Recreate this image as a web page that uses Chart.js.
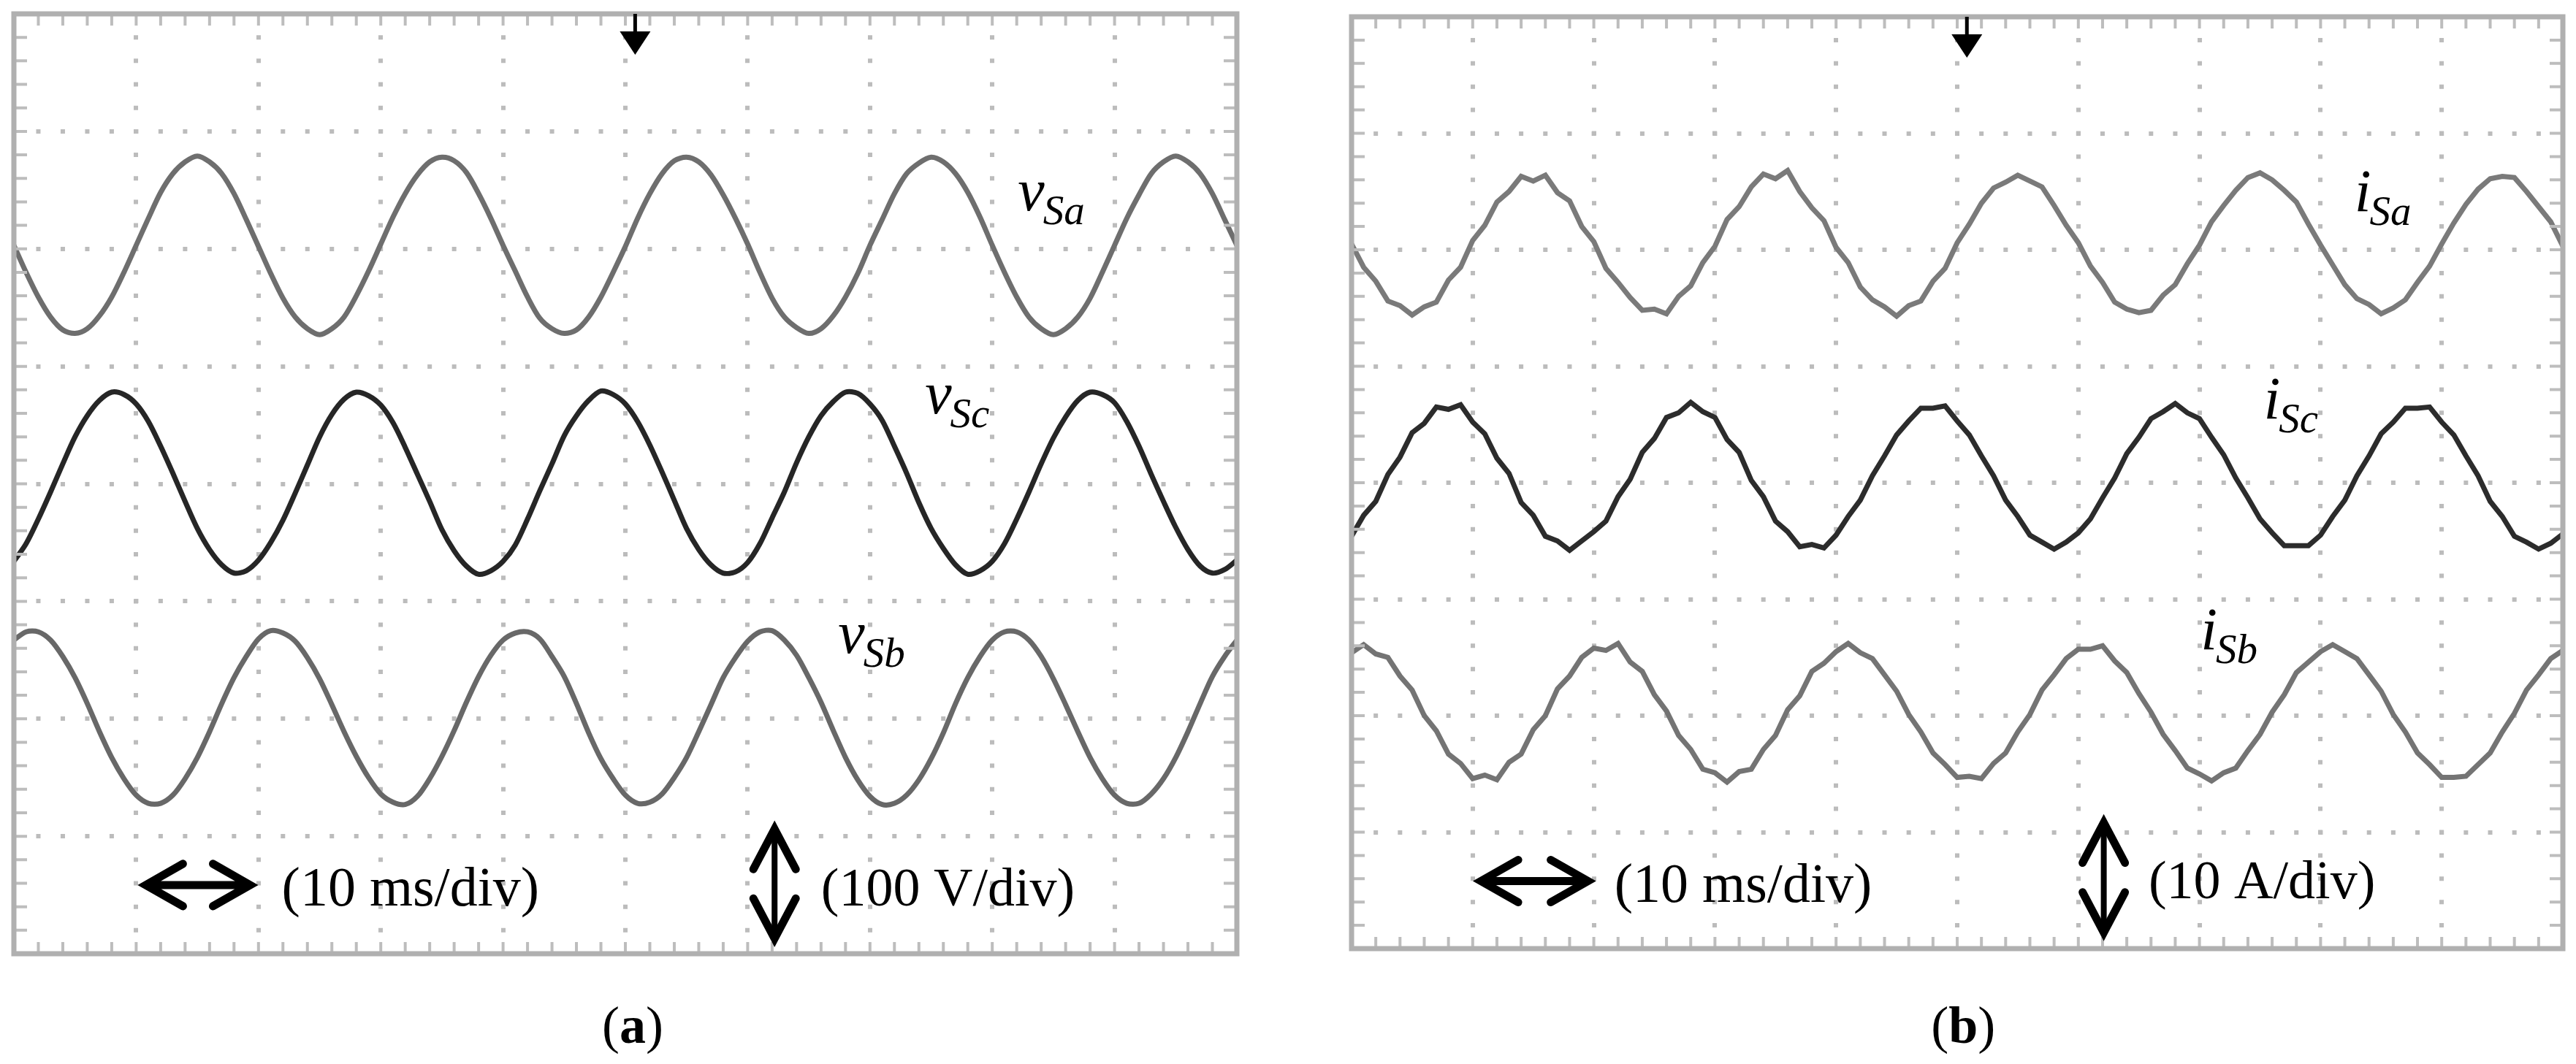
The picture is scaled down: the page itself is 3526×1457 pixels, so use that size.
<!DOCTYPE html>
<html>
<head>
<meta charset="utf-8">
<title>Source voltages and source currents</title>
<script src="https://cdn.jsdelivr.net/npm/chart.js@4.4.1/dist/chart.umd.min.js"></script>
<style>
  html, body { margin: 0; padding: 0; background: #fff; }
  .panel { position: absolute; top: 0; height: 1457px; }
  #panelA { left: 0; width: 1770px; }
  #panelB { left: 1770px; width: 1756px; }
</style>
</head>
<body>
<div class="panel" id="panelA"><canvas id="scopeA"></canvas></div>
<div class="panel" id="panelB"><canvas id="scopeB"></canvas></div>
<script>
// sample instants in ms (10 ms/div, 10 divisions across the screen)
const timeMs = [
  0, 1, 2, 3, 4, 5, 6, 7, 8, 9, 10, 11, 12, 13, 14, 15, 16, 17, 18, 19,
  20, 21, 22, 23, 24, 25, 26, 27, 28, 29, 30, 31, 32, 33, 34, 35, 36, 37, 38, 39,
  40, 41, 42, 43, 44, 45, 46, 47, 48, 49, 50, 51, 52, 53, 54, 55, 56, 57, 58, 59,
  60, 61, 62, 63, 64, 65, 66, 67, 68, 69, 70, 71, 72, 73, 74, 75, 76, 77, 78, 79,
  80, 81, 82, 83, 84, 85, 86, 87, 88, 89, 90, 91, 92, 93, 94, 95, 96, 97, 98, 99,
  100
];

// (a) source voltages, V (100 V/div, traces offset on screen)
const vSa = [
  203, 180, 159, 142, 131, 128, 132, 143, 159, 180, 203, 226, 248, 264, 274, 279, 274, 264, 247, 225,
  202, 179, 158, 142, 132, 127, 132, 142, 160, 181, 204, 227, 247, 263, 274, 278, 275, 265, 247, 226,
  203, 181, 159, 141, 132, 128, 131, 142, 159, 180, 202, 226, 247, 264, 275, 278, 274, 263, 246, 226,
  204, 180, 158, 142, 133, 128, 132, 143, 159, 179, 203, 225, 247, 264, 273, 278, 274, 264, 248, 227,
  203, 180, 159, 142, 132, 127, 132, 142, 158, 180, 203, 226, 246, 264, 274, 279, 274, 264, 247, 225,
  203
];
const vSc = [
  -66, -51, -30, -7, 17, 40, 58, 71, 78, 76, 68, 53, 32, 9, -15, -38, -56, -69, -76, -74,
  -65, -50, -31, -8, 16, 40, 59, 72, 78, 75, 67, 52, 31, 8, -15, -39, -57, -70, -77, -74,
  -66, -52, -30, -6, 17, 41, 58, 71, 79, 76, 68, 53, 33, 10, -14, -38, -56, -69, -76, -75,
  -67, -51, -29, -7, 18, 40, 58, 70, 78, 77, 68, 54, 32, 9, -16, -38, -55, -69, -77, -74,
  -66, -51, -30, -7, 17, 39, 57, 71, 78, 76, 69, 53, 32, 8, -15, -37, -56, -70, -76, -73,
  -65
];
const vSb = [
  -133, -126, -126, -133, -147, -165, -187, -211, -233, -251, -265, -272, -272, -265, -251, -233, -211, -187, -165, -147,
  -132, -125, -127, -134, -148, -166, -188, -211, -232, -250, -264, -271, -273, -266, -251, -232, -210, -186, -164, -146,
  -133, -127, -126, -132, -147, -164, -187, -212, -234, -251, -265, -272, -271, -264, -250, -233, -211, -188, -165, -148,
  -134, -126, -125, -133, -146, -165, -186, -210, -233, -252, -266, -273, -272, -265, -252, -234, -212, -187, -165, -147,
  -133, -126, -126, -133, -147, -166, -188, -211, -233, -251, -265, -272, -272, -264, -251, -233, -211, -187, -164, -147,
  -133
];

// (b) source currents, A (10 A/div, traces offset on screen)
const iSa = [
  20.5, 18.5, 17.3, 15.6, 15.2, 14.4, 15.1, 15.5, 17.4, 18.5, 20.8, 22.1, 24.1, 25.0, 26.3, 25.9, 26.4, 24.9, 24.2, 22.0,
  20.7, 18.4, 17.2, 15.9, 14.8, 14.9, 14.5, 16.0, 16.9, 18.9, 20.3, 22.6, 23.7, 25.4, 26.5, 26.1, 26.8, 25.0, 23.6, 22.5,
  20.2, 18.9, 16.8, 15.7, 15.1, 14.3, 15.2, 15.6, 17.3, 18.4, 20.6, 22.2, 24.0, 25.3, 25.8, 26.4, 25.9, 25.4, 23.8, 22.1,
  20.6, 18.6, 17.2, 15.5, 14.9, 14.6, 14.8, 16.1, 17.0, 18.8, 20.4, 22.4, 23.8, 25.1, 26.2, 26.6, 26.0, 25.1, 24.1, 22.2,
  20.4, 18.7, 17.0, 15.8, 15.3, 14.5, 15.0, 15.7, 17.2, 18.6, 20.5, 22.3, 23.9, 25.2, 26.1, 26.3, 26.2, 25.0, 23.7, 22.4,
  20.3
];
const iSc = [
  -4.6, -2.8, -1.6, 0.7, 2.2, 4.3, 5.1, 6.5, 6.3, 6.7, 5.2, 4.2, 2.1, 0.8, -1.7, -2.8, -4.6, -5.0, -5.8, -5.0,
  -4.2, -3.3, -1.2, 0.3, 2.6, 3.8, 5.6, 6.0, 6.9, 6.1, 5.6, 3.7, 2.6, 0.2, -1.2, -3.3, -4.2, -5.5, -5.3, -5.6,
  -4.5, -2.9, -1.5, 0.6, 2.3, 4.1, 5.3, 6.4, 6.4, 6.6, 5.3, 4.1, 2.3, 0.6, -1.5, -2.9, -4.5, -5.1, -5.7, -5.1,
  -4.3, -3.1, -1.3, 0.4, 2.5, 3.9, 5.5, 6.1, 6.8, 6.0, 5.5, 3.9, 2.4, 0.4, -1.3, -3.1, -4.3, -5.4, -5.4, -5.4,
  -4.5, -2.9, -1.5, 0.6, 2.3, 4.2, 5.2, 6.4, 6.4, 6.5, 5.2, 4.1, 2.3, 0.6, -1.6, -2.9, -4.6, -5.1, -5.7, -5.2,
  -4.4
];
const iSb = [
  -14.6, -13.9, -14.7, -15.0, -16.6, -17.8, -20.0, -21.3, -23.3, -24.1, -25.4, -25.1, -25.5, -24.0, -23.3, -21.2, -20.0, -17.7, -16.6, -15.0,
  -14.2, -14.4, -13.8, -15.4, -16.2, -18.2, -19.6, -21.7, -22.9, -24.6, -24.9, -25.7, -24.8, -24.6, -22.9, -21.7, -19.5, -18.3, -16.2, -15.5,
  -14.5, -13.8, -14.6, -15.1, -16.5, -17.9, -19.9, -21.4, -23.2, -24.2, -25.3, -25.2, -25.4, -24.1, -23.2, -21.4, -19.9, -17.8, -16.5, -15.1,
  -14.3, -14.3, -14.0, -15.3, -16.3, -18.1, -19.7, -21.6, -23.0, -24.5, -25.0, -25.6, -24.9, -24.5, -23.0, -21.6, -19.7, -18.2, -16.3, -15.4,
  -14.5, -13.9, -14.5, -15.1, -16.5, -17.9, -19.9, -21.4, -23.2, -24.2, -25.3, -25.3, -25.2, -24.2, -23.2, -21.4, -19.8, -17.8, -16.5, -15.1,
  -14.4
];

const msPerDiv = 10;
const voltsPerDiv = 100;
const ampsPerDiv = 10;
const triggerMs = 50.8;

const pts = vals => vals.map((v, i) => ({ x: timeMs[i], y: v }));

// draws the graticule frame, trigger mark and the annotations
const scopeDecor = {
  id: 'scopeDecor',
  afterDatasetsDraw(chart, args, o) {
    const { ctx, chartArea: a, scales: { x, y } } = chart;
    const X = v => x.getPixelForValue(v), Y = v => y.getPixelForValue(v);
    ctx.save();

    // minor marks on the frame
    ctx.strokeStyle = '#bdbdbd';
    ctx.lineWidth = 4;
    ctx.beginPath();
    for (let t = x.min + o.xMinor; t < x.max - 1e-6; t += o.xMinor) {
      const px = X(t);
      ctx.moveTo(px, a.top); ctx.lineTo(px, a.top + 16);
      ctx.moveTo(px, a.bottom); ctx.lineTo(px, a.bottom - 16);
    }
    for (let v = y.min + o.yMinor; v < y.max - 1e-6; v += o.yMinor) {
      const py = Y(v);
      ctx.moveTo(a.left, py); ctx.lineTo(a.left + 18, py);
      ctx.moveTo(a.right, py); ctx.lineTo(a.right - 18, py);
    }
    ctx.stroke();

    ctx.strokeStyle = '#b0b0b0';
    ctx.lineWidth = 7;
    ctx.strokeRect(a.left, a.top, a.right - a.left, a.bottom - a.top);

    // trigger position
    const tx = X(triggerMs);
    ctx.strokeStyle = '#000';
    ctx.fillStyle = '#000';
    ctx.lineWidth = 5;
    ctx.beginPath(); ctx.moveTo(tx, a.top); ctx.lineTo(tx, a.top + 40); ctx.stroke();
    ctx.beginPath();
    ctx.moveTo(tx - 21, a.top + 24); ctx.lineTo(tx + 21, a.top + 24); ctx.lineTo(tx, a.top + 56);
    ctx.closePath(); ctx.fill();

    // trace names
    ctx.textBaseline = 'alphabetic';
    ctx.textAlign = 'left';
    o.names.forEach(n => {
      const px = X(n.x), py = Y(n.y);
      ctx.font = 'italic 82px "Liberation Serif"';
      ctx.fillText(n.main, px, py);
      const w = ctx.measureText(n.main).width;
      ctx.font = 'italic 57px "Liberation Serif"';
      ctx.fillText(n.sub, px + w - 2, py + 19);
    });

    // time base arrow
    const h = o.hArrow;
    const hx1 = X(h.x1), hx2 = X(h.x2), hy = Y(h.y);
    ctx.lineWidth = 11;
    ctx.lineCap = 'round';
    ctx.lineJoin = 'miter';
    ctx.beginPath();
    ctx.moveTo(hx1 + 6, hy); ctx.lineTo(hx2 - 6, hy);
    ctx.moveTo(hx1 + 54, hy - 29); ctx.lineTo(hx1 + 3, hy); ctx.lineTo(hx1 + 54, hy + 29);
    ctx.moveTo(hx2 - 54, hy - 29); ctx.lineTo(hx2 - 3, hy); ctx.lineTo(hx2 - 54, hy + 29);
    ctx.stroke();

    // amplitude arrow
    const vA = o.vArrow;
    const vx = X(vA.x), vy1 = Y(vA.y1), vy2 = Y(vA.y2);
    ctx.lineWidth = 8;
    ctx.beginPath(); ctx.moveTo(vx, vy1 + 8); ctx.lineTo(vx, vy2 - 8); ctx.stroke();
    ctx.lineWidth = 11;
    ctx.beginPath();
    ctx.moveTo(vx - 29, vy1 + 58); ctx.lineTo(vx, vy1 + 3); ctx.lineTo(vx + 29, vy1 + 58);
    ctx.moveTo(vx - 29, vy2 - 58); ctx.lineTo(vx, vy2 - 3); ctx.lineTo(vx + 29, vy2 - 58);
    ctx.stroke();

    ctx.font = '76px "Liberation Serif"';
    ctx.fillText(h.text, X(h.tx), Y(h.ty));
    ctx.font = '74px "Liberation Serif"';
    ctx.fillText(vA.text, X(vA.tx), Y(vA.ty));

    // panel caption, bold letter in plain brackets
    const c = o.caption;
    ctx.font = '72px "Liberation Serif"';
    const wp = ctx.measureText('(').width;
    ctx.font = 'bold 72px "Liberation Serif"';
    const wl = ctx.measureText(c.letter).width;
    let cx = X(c.x) - (2 * wp + wl) / 2;
    const cy = Y(c.y);
    ctx.font = '72px "Liberation Serif"';
    ctx.fillText('(', cx, cy); cx += wp;
    ctx.font = 'bold 72px "Liberation Serif"';
    ctx.fillText(c.letter, cx, cy); cx += wl;
    ctx.font = '72px "Liberation Serif"';
    ctx.fillText(')', cx, cy);

    ctx.restore();
  }
};

function scopeScales(yDiv, area) {
  const w = area.right - area.left, hgt = area.bottom - area.top;
  return {
    x: {
      type: 'linear', min: 0, max: 10 * msPerDiv,
      ticks: { display: false, stepSize: msPerDiv },
      grid: { color: '#bcbcbc', lineWidth: 6, drawTicks: false },
      border: { display: false, dash: [6, hgt / 40 - 6], dashOffset: 3 }
    },
    y: {
      type: 'linear', min: -4 * yDiv, max: 4 * yDiv,
      ticks: { display: false, stepSize: yDiv },
      grid: { color: '#bcbcbc', lineWidth: 6, drawTicks: false },
      border: { display: false, dash: [6, w / 50 - 6], dashOffset: 3 }
    }
  };
}

function trace(label, vals, color, tension) {
  return {
    label, data: pts(vals), borderColor: color, borderWidth: 7,
    pointRadius: 0, tension, fill: false
  };
}

function makeScope(id, canvasW, area, yDiv, datasets, decor) {
  new Chart(document.getElementById(id), {
    type: 'line',
    data: { datasets },
    options: {
      responsive: true,
      maintainAspectRatio: false,
      devicePixelRatio: 1,
      animation: false,
      events: [],
      layout: { padding: { left: area.left, top: area.top, right: canvasW - area.right, bottom: 1457 - area.bottom } },
      scales: scopeScales(yDiv, area),
      plugins: { legend: { display: false }, tooltip: { enabled: false }, scopeDecor: decor }
    },
    plugins: [scopeDecor]
  });
}

makeScope('scopeA', 1770, { left: 19, top: 19, right: 1693, bottom: 1306 }, voltsPerDiv, [
  trace('vSa', vSa, '#6e6e6e', 0.3),
  trace('vSc', vSc, '#262626', 0.3),
  trace('vSb', vSb, '#686868', 0.3)
], {
  xMinor: 2, yMinor: 20,
  names: [
    { main: 'v', sub: 'Sa', x: 82.1, y: 233 },
    { main: 'v', sub: 'Sc', x: 74.5, y: 60 },
    { main: 'v', sub: 'Sb', x: 67.4, y: -144 }
  ],
  hArrow: { x1: 10.6, x2: 19.5, y: -341.5, text: '(10 ms/div)', tx: 21.9, ty: -359 },
  vArrow: { x: 62.2, y1: -292, y2: -389, text: '(100 V/div)', tx: 66.0, ty: -359 },
  caption: { letter: 'a', x: 50.6, y: -475.7 }
});

makeScope('scopeB', 1756, { left: 80, top: 23, right: 1738, bottom: 1299 }, ampsPerDiv, [
  trace('iSa', iSa, '#7a7a7a', 0),
  trace('iSc', iSc, '#2c2c2c', 0),
  trace('iSb', iSb, '#747474', 0)
], {
  xMinor: 2, yMinor: 2,
  names: [
    { main: 'i', sub: 'Sa', x: 82.8, y: 23.3 },
    { main: 'i', sub: 'Sc', x: 75.3, y: 5.5 },
    { main: 'i', sub: 'Sb', x: 70.1, y: -14.3 }
  ],
  hArrow: { x1: 10.5, x2: 19.7, y: -34.2, text: '(10 ms/div)', tx: 21.7, ty: -36.0 },
  vArrow: { x: 62.1, y1: -29.0, y2: -38.8, text: '(10 A/div)', tx: 65.8, ty: -35.7 },
  caption: { letter: 'b', x: 50.5, y: -48.1 }
});
</script>
</body>
</html>
